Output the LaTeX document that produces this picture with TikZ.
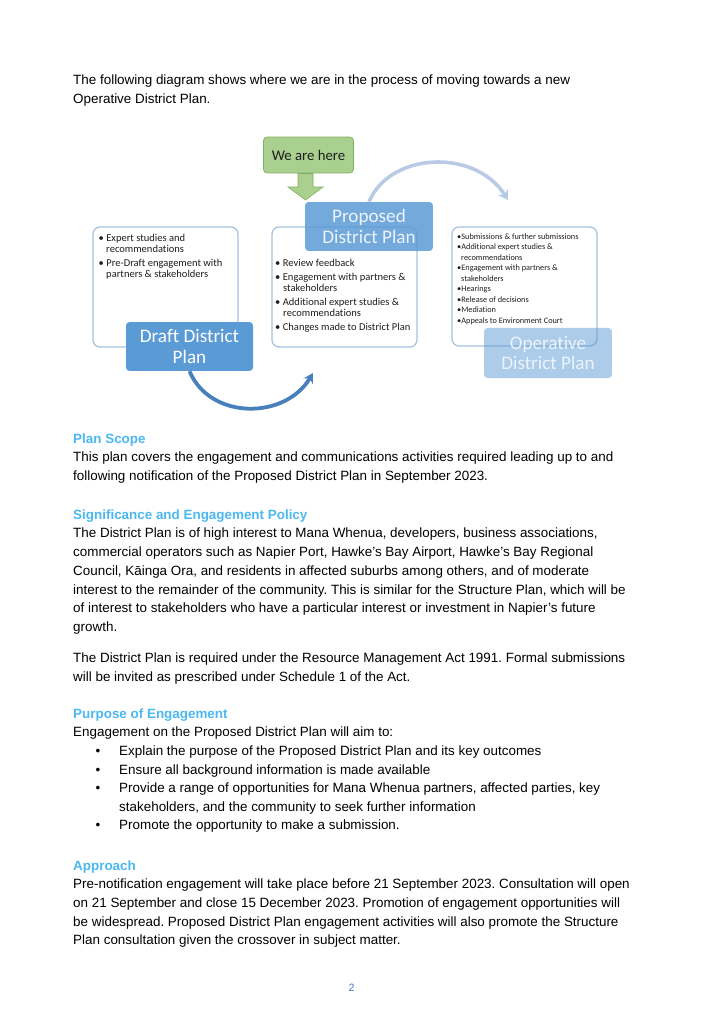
\documentclass[tikz,border=0pt]{standalone}
\usepackage{fontspec}
\setmainfont{Liberation Sans}
\newfontfamily\dgfont[Ligatures=NoCommon]{Carlito}
\usetikzlibrary{arrows.meta,fit}
\frenchspacing
\definecolor{headblue}{RGB}{75,185,240}
\definecolor{pageblue}{RGB}{68,114,196}
\definecolor{boxline}{RGB}{168,194,222}
\definecolor{draftblue}{RGB}{91,155,213}
\definecolor{arcdark}{RGB}{72,128,190}
\definecolor{arclight}{RGB}{184,202,230}
\definecolor{greenfill}{RGB}{169,208,142}
\definecolor{greenline}{RGB}{128,176,98}
\definecolor{textgray}{RGB}{30,30,30}
\begin{document}
\begin{tikzpicture}[x=0.8457pt,y=-0.8457pt,
  body/.style={anchor=base west, inner sep=0pt, font=\fontsize{11.35}{13}\selectfont, text=black},
  head/.style={anchor=base west, inner sep=0pt, font=\fontsize{11.35}{13}\selectfont\bfseries, text=headblue},
  outline/.style={draw=boxline, line width=1.1pt, rounded corners=6pt, fill=white, inner sep=0pt},
  smalltxt/.style={anchor=base west, inner sep=0pt, font=\dgfont\fontsize{8.9}{10}\selectfont, text=textgray},
  tinytxt/.style={anchor=base west, inner sep=0pt, font=\dgfont\fontsize{7}{8}\selectfont, text=textgray},
  bigbox/.style={rounded corners=3pt, inner sep=0pt, align=center, font=\dgfont\fontsize{16.2}{17.4}\selectfont},
  bottomarc/.style={draw=arcdark, line width=3.2pt, -{Stealth[length=8pt,width=9pt]}},
  toparc/.style={draw=arclight, line width=3pt, -{Stealth[length=8pt,width=10pt]}}
]
\fill[white] (0,0) rectangle (703,1019);
\useasboundingbox (0,0) rectangle (703,1019);

% intro
\node[body] (i1) at (73,85) {The following diagram shows where we are in the process of moving towards a new};
\node[body] (i2) at (73,103.7) {Operative District Plan.};

% diagram outline boxes
\node[outline, fit={(93,227) (238,347)}] (lbox) {};
\node[outline, fit={(272,227) (417,347)}] (mbox) {};
\node[outline, fit={(452,227) (597,346)}] (rbox) {};

% left box text
\node[smalltxt] (l1) at (98.5,241) {• Expert studies and};
\node[smalltxt] (l2) at (106,252) {recommendations};
\node[smalltxt] (l3) at (98.5,266) {• Pre-Draft engagement with};
\node[smalltxt] (l4) at (106,277.5) {partners \& stakeholders};

% middle box text
\node[smalltxt] (m1) at (275,266) {• Review feedback};
\node[smalltxt] (m2) at (275,280) {• Engagement with partners \&};
\node[smalltxt] (m3) at (283,291) {stakeholders};
\node[smalltxt] (m4) at (275,305) {• Additional expert studies \&};
\node[smalltxt] (m5) at (283,316) {recommendations};
\node[smalltxt] (m6) at (275,330) {• Changes made to District Plan};

% right box text
\node[tinytxt] (r1) at (457,239) {•Submissions \& further submissions};
\node[tinytxt] (r2) at (457,249.5) {•Additional expert studies \&};
\node[tinytxt] (r3) at (461,260) {recommendations};
\node[tinytxt] (r4) at (457,270.5) {•Engagement with partners \&};
\node[tinytxt] (r5) at (461,281) {stakeholders};
\node[tinytxt] (r6) at (457,291.5) {•Hearings};
\node[tinytxt] (r7) at (457,302) {•Release of decisions};
\node[tinytxt] (r8) at (457,312.5) {•Mediation};
\node[tinytxt] (r9) at (457,323) {•Appeals to Environment Court};

% big labelled boxes
\node[bigbox, fill=draftblue, text=white, minimum width=107.4pt, minimum height=41.4pt] (draft) at (189.5,346.5) {Draft District\\Plan};
\node[bigbox, fill=draftblue, fill opacity=0.85, text opacity=1, text={rgb,255:red,236;green,243;blue,250}, minimum width=108.2pt, minimum height=41.4pt] (prop) at (369,226.5) {Proposed\\District Plan};
\node[bigbox, fill=draftblue, fill opacity=0.5, text opacity=1, text={rgb,255:red,236;green,243;blue,250}, minimum width=108.2pt, minimum height=42.3pt] (oper) at (548,353) {Operative\\District Plan};

% we are here
\node[draw=greenline, fill=greenfill, line width=0.6pt, rounded corners=3pt, minimum width=76.1pt, minimum height=30.4pt, inner sep=0pt, font=\dgfont\fontsize{12.5}{14}\selectfont, text=textgray] (here) at (308.5,155) {We are here};
\filldraw[fill=greenfill, draw=greenline, line width=0.5pt] (298,173.5) -- (313,173.5) -- (313,187) -- (323,187) -- (305.5,200) -- (288,187) -- (298,187) -- cycle;

% arcs
\coordinate (bend) at (313,373);
\coordinate (tend) at (508,200);
\draw[bottomarc] (draft.south) .. controls (210,420) and (285,420) .. (bend);
\draw[toparc] (prop.north) .. controls (390,152) and (475,148) .. (tend);

% Plan Scope
\node[head] (h1) at (73,443.3) {Plan Scope};
\node[body] (p1) at (73,461.8) {This plan covers the engagement and communications activities required leading up to and};
\node[body] (p2) at (73,480.4) {following notification of the Proposed District Plan in September 2023.};

% Significance
\node[head] (h2) at (73,519) {Significance and Engagement Policy};
\node[body] (s1) at (73,537.7) {The District Plan is of high interest to Mana Whenua, developers, business associations,};
\node[body] (s2) at (73,556.5) {commercial operators such as Napier Port, Hawke’s Bay Airport, Hawke’s Bay Regional};
\node[body] (s3) at (73,575.2) {Council, Kāinga Ora, and residents in affected suburbs among others, and of moderate};
\node[body] (s4) at (73,594) {interest to the remainder of the community. This is similar for the Structure Plan, which will be};
\node[body] (s5) at (73,612.7) {of interest to stakeholders who have a particular interest or investment in Napier’s future};
\node[body] (s6) at (73,631.5) {growth.};
\node[body] (s7) at (73,662.3) {The District Plan is required under the Resource Management Act 1991. Formal submissions};
\node[body] (s8) at (73,681) {will be invited as prescribed under Schedule 1 of the Act.};

% Purpose
\node[head] (h3) at (73,718.3) {Purpose of Engagement};
\node[body] (e0) at (73,736.9) {Engagement on the Proposed District Plan will aim to:};
\node[body] (b1) at (95.5,755.5) {•};
\node[body] (e1) at (119,755.5) {Explain the purpose of the Proposed District Plan and its key outcomes};
\node[body] (b2) at (95.5,774) {•};
\node[body] (e2) at (119,774) {Ensure all background information is made available};
\node[body] (b3) at (95.5,792.6) {•};
\node[body] (e3) at (119,792.6) {Provide a range of opportunities for Mana Whenua partners, affected parties, key};
\node[body] (e4) at (119,811.2) {stakeholders, and the community to seek further information};
\node[body] (b4) at (95.5,829.8) {•};
\node[body] (e5) at (119,829.8) {Promote the opportunity to make a submission.};

% Approach
\node[head] (h4) at (73,870) {Approach};
\node[body] (a1) at (73,888.8) {Pre-notification engagement will take place before 21 September 2023. Consultation will open};
\node[body] (a2) at (73,907.4) {on 21 September and close 15 December 2023. Promotion of engagement opportunities will};
\node[body] (a3) at (73,926) {be widespread. Proposed District Plan engagement activities will also promote the Structure};
\node[body] (a4) at (73,944.6) {Plan consultation given the crossover in subject matter.};

% page number
\node[anchor=base, inner sep=0pt, font=\fontsize{9}{11}\selectfont, text=pageblue] (pg) at (351.5,991) {2};
\end{tikzpicture}
\end{document}
